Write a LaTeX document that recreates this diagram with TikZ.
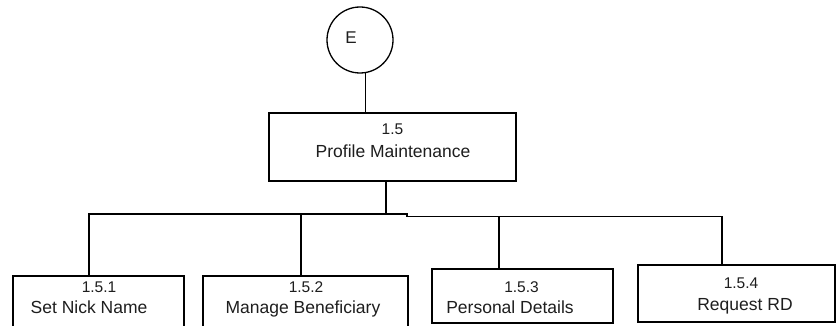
\documentclass[tikz,border=0pt]{standalone}
\usepackage{fontspec}
\setmainfont{Liberation Sans}
\definecolor{ink}{RGB}{30,30,30}
\begin{document}
\begin{tikzpicture}[x=1pt,y=-1pt,
  boxshape/.style={draw=black,line width=1.5pt,rectangle,inner sep=0pt,outer sep=0pt,anchor=north west},
  circshape/.style={draw=black,line width=1.3pt,circle,inner sep=0pt,outer sep=0pt,minimum size=66pt},
  numtext/.style={anchor=base,inner sep=0pt,text=ink,font=\fontsize{15.5}{18}\selectfont},
  nametext/.style={anchor=base,inner sep=0pt,text=ink,font=\fontsize{17.5}{20}\selectfont},
  conn/.style={draw=black,line width=1.5pt}]
\useasboundingbox (0,0) rectangle (837,326);
\clip (0,0) rectangle (837,326);
\fill[white] (0,0) rectangle (837,326);
% nodes
\node[circshape] (E) at (360,40) {};
\node[numtext,font=\fontsize{17}{20}\selectfont] (Et) at (351,44) {E};
\node[boxshape,minimum width=247pt,minimum height=68pt] (P) at (269,113) {};
\node[numtext] (Pn) at (392.5,134.5) {1.5};
\node[nametext] (Pt) at (393,157) {Profile Maintenance};
\node[boxshape,minimum width=171pt,minimum height=80pt] (A) at (13,276) {};
\node[numtext] (An) at (99,292.5) {1.5.1};
\node[nametext] (At) at (89,313) {Set Nick Name};
\node[boxshape,minimum width=205pt,minimum height=80pt] (B) at (203,276) {};
\node[numtext] (Bn) at (306,292.5) {1.5.2};
\node[nametext] (Bt) at (303,313) {Manage Beneficiary};
\node[boxshape,minimum width=181pt,minimum height=54pt] (C) at (432,269) {};
\node[numtext] (Cn) at (521.5,292) {1.5.3};
\node[nametext] (Ct) at (510,313) {Personal Details};
\node[boxshape,minimum width=197pt,minimum height=57pt] (D) at (638,265) {};
\node[numtext] (Dn) at (741,288) {1.5.4};
\node[nametext] (Dt) at (745,310) {Request RD};
% junction coordinates
\coordinate (ja) at (89,214);
\coordinate (jb) at (301,214);
\coordinate (jt) at (386,214);
\coordinate (js1) at (407,214);
\coordinate (js2) at (407,216.7);
\coordinate (jc) at (499,216.7);
\coordinate (jd) at (722,216.7);
% connectors
\draw[conn] (E.-80) -- (E.-80 |- P.north);
\draw[conn] (P.south -| jt) -- (jt);
\draw[conn] (A.north -| ja) -- (ja) -- (js1) -- (js2) -- (jd) -- (D.north -| jd);
\draw[conn] (jb) -- (B.north -| jb);
\draw[conn] (jc) -- (C.north -| jc);
\end{tikzpicture}
\end{document}
